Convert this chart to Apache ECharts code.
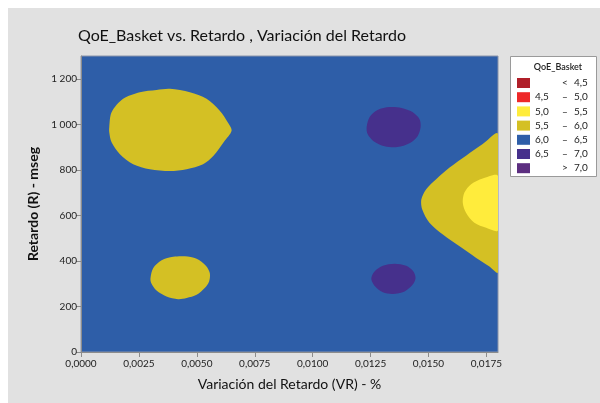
<!DOCTYPE html>
<html><head><meta charset="utf-8">
<script src="https://cdn.jsdelivr.net/npm/echarts@6/dist/echarts.min.js"></script>
<style>html,body{margin:0;padding:0;background:#fff}#c{width:600px;height:403px}</style>
</head><body><div id="c"></div>
<script>
// ---- data ----
const titleText = 'QoE_Basket vs. Retardo , Variación del Retardo';
const xName = 'Variación del Retardo (VR) - %';
const yName = 'Retardo (R) - mseg';
const xTicks = [0, 0.0025, 0.005, 0.0075, 0.01, 0.0125, 0.015, 0.0175];
const yTicks = [0, 200, 400, 600, 800, 1000, 1200];
const xRange = [0, 0.018];
const yRange = [0, 1300];

const legendTitle = 'QoE_Basket';
const legendLow = ['', '4,5', '5,0', '5,5', '6,0', '6,5', ''];
const legendSep = ['<', '–', '–', '–', '–', '–', '>'];
const legendHigh = ['4,5', '5,0', '5,5', '6,0', '6,5', '7,0', '7,0'];
const legendColors = ['#b01f29', '#ee2828', '#ffec3c', '#d4c024', '#2e5ea8', '#46308c', '#5c2e80'];

// background level 6,0 - 6,5 fills the plot
const backgroundLevel = 4;

// contour regions: boundary points [VR, R] and the level index they belong to
const regionYellowTopLeft = [[0.00122,987],[0.00132,1053],[0.00182,1112],[0.00254,1141],[0.00326,1151],[0.00384,1156],[0.00470,1141],[0.00542,1112],[0.00599,1060],[0.00636,1005],[0.00650,972],[0.00618,925],[0.00572,862],[0.00527,825],[0.00456,803],[0.00384,795],[0.00297,803],[0.00225,825],[0.00168,869],[0.00132,921],[0.00122,965]];
const regionYellowBottomLeft = [[0.00300,325],[0.00312,369],[0.00348,403],[0.00398,418],[0.00448,420],[0.00499,409],[0.00539,379],[0.00556,347],[0.00553,310],[0.00534,281],[0.00499,251],[0.00456,237],[0.00419,232],[0.00369,244],[0.00326,270],[0.00303,303]];
const regionYellowRight = [[0.0180,957],[0.01734,913],[0.01662,862],[0.01591,810],[0.01533,759],[0.01490,715],[0.01469,670],[0.01473,626],[0.01504,568],[0.01562,516],[0.01634,464],[0.01706,413],[0.01763,376],[0.0180,350]];
const regionBrightYellowRight = [[0.0180,773],[0.01734,762],[0.01684,737],[0.01655,700],[0.01648,656],[0.01662,612],[0.01698,568],[0.01749,546],[0.0180,535]];
const regionPurpleTop = [[0.01233,988],[0.01246,1032],[0.01280,1063],[0.01332,1076],[0.01384,1072],[0.01431,1054],[0.01461,1023],[0.01466,988],[0.01453,948],[0.01418,917],[0.01366,900],[0.01310,904],[0.01263,926],[0.01237,957]];
const regionPurpleBottom = [[0.01253,321],[0.01267,354],[0.01303,379],[0.01353,388],[0.01404,379],[0.01435,354],[0.01444,325],[0.01432,296],[0.01397,266],[0.01346,255],[0.01303,262],[0.01272,285]];

const regions = [
  {pts: regionYellowRight, level: 3},
  {pts: regionBrightYellowRight, level: 2},
  {pts: regionYellowTopLeft, level: 3},
  {pts: regionYellowBottomLeft, level: 3},
  {pts: regionPurpleTop, level: 5},
  {pts: regionPurpleBottom, level: 5}
];

// ---- chart ----
const chart = echarts.init(document.getElementById('c'), null, {renderer: 'canvas'});
const fmtX = v => v.toFixed(4).replace('.', ',');
const fmtY = v => String(v).replace(/\B(?=(\d{3})+(?!\d))/g, ' ');
const FONT = 'Lato';

const series = regions.map(r => ({
  type: 'custom',
  coordinateSystem: 'cartesian2d',
  clip: true,
  silent: true,
  data: r.pts,
  renderItem: function (params, api) {
    if (params.dataIndex !== 0) return null;
    const pts = r.pts.map(p => api.coord(p));
    return {type: 'polygon', shape: {points: pts, smooth: 0.3},
      style: {fill: legendColors[r.level], stroke: null}};
  }
}));

const LX = 510, LY = 56, LW = 86, LH = 120, ROW0 = 83, ROWH = 14.2;
const graphics = [
  {type: 'rect', left: 8, top: 8, z: -10, shape: {width: 592, height: 395}, style: {fill: '#e1e1e1'}},
  {type: 'rect', left: LX, top: LY, shape: {width: LW, height: LH}, style: {fill: '#fff', stroke: '#9a9a9a', lineWidth: 1}},
  {type: 'text', x: 558, y: 67, style: {text: legendTitle, fill: '#222', font: '600 9px ' + FONT, textAlign: 'center', textVerticalAlign: 'middle'}}
];
legendColors.forEach((c, i) => {
  const y = ROW0 + i * ROWH;
  graphics.push({type: 'rect', shape: {x: 517, y: y - 5, width: 13, height: 10}, style: {fill: c}});
  if (legendLow[i]) graphics.push({type: 'text', x: 535, y: y, style: {text: legendLow[i], fill: '#222', font: '10px ' + FONT, textVerticalAlign: 'middle'}});
  graphics.push({type: 'text', x: 565, y: y, style: {text: legendSep[i], fill: '#222', font: '10px ' + FONT, textAlign: 'center', textVerticalAlign: 'middle'}});
  graphics.push({type: 'text', x: 574, y: y, style: {text: legendHigh[i], fill: '#222', font: '10px ' + FONT, textVerticalAlign: 'middle'}});
});

chart.setOption({
  backgroundColor: '#ffffff',
  animation: false,
  title: {text: titleText, left: 73, top: 23, textStyle: {fontFamily: FONT, fontSize: 16, fontWeight: 'normal', color: '#111'}},
  grid: {left: 81, right: 102, top: 56, bottom: 51, show: true, backgroundColor: legendColors[backgroundLevel], borderColor: '#8a94aa', borderWidth: 1},
  xAxis: {
    type: 'value', min: xRange[0], max: xRange[1],
    name: xName, nameLocation: 'middle', nameGap: 25,
    nameTextStyle: {fontFamily: FONT, fontSize: 14, color: '#111'},
    axisLine: {show: true, onZero: false, lineStyle: {color: '#8c8c8c'}},
    axisTick: {show: true, length: 5, customValues: xTicks, lineStyle: {color: '#8c8c8c'}},
    axisLabel: {customValues: xTicks, formatter: fmtX, margin: 7, fontFamily: FONT, fontSize: 10, color: '#222'},
    splitLine: {show: false}
  },
  yAxis: {
    type: 'value', min: yRange[0], max: yRange[1],
    name: yName, nameLocation: 'middle', nameGap: 40, nameRotate: 90,
    nameTextStyle: {fontFamily: FONT, fontSize: 14, fontWeight: 'bold', color: '#111'},
    axisLine: {show: true, onZero: false, lineStyle: {color: '#8c8c8c'}},
    axisTick: {show: true, length: 5, customValues: yTicks, lineStyle: {color: '#8c8c8c'}},
    axisLabel: {customValues: yTicks, formatter: fmtY, margin: 4, fontFamily: FONT, fontSize: 10, color: '#222'},
    splitLine: {show: false}
  },
  graphic: graphics,
  series: series
});
</script></body></html>
